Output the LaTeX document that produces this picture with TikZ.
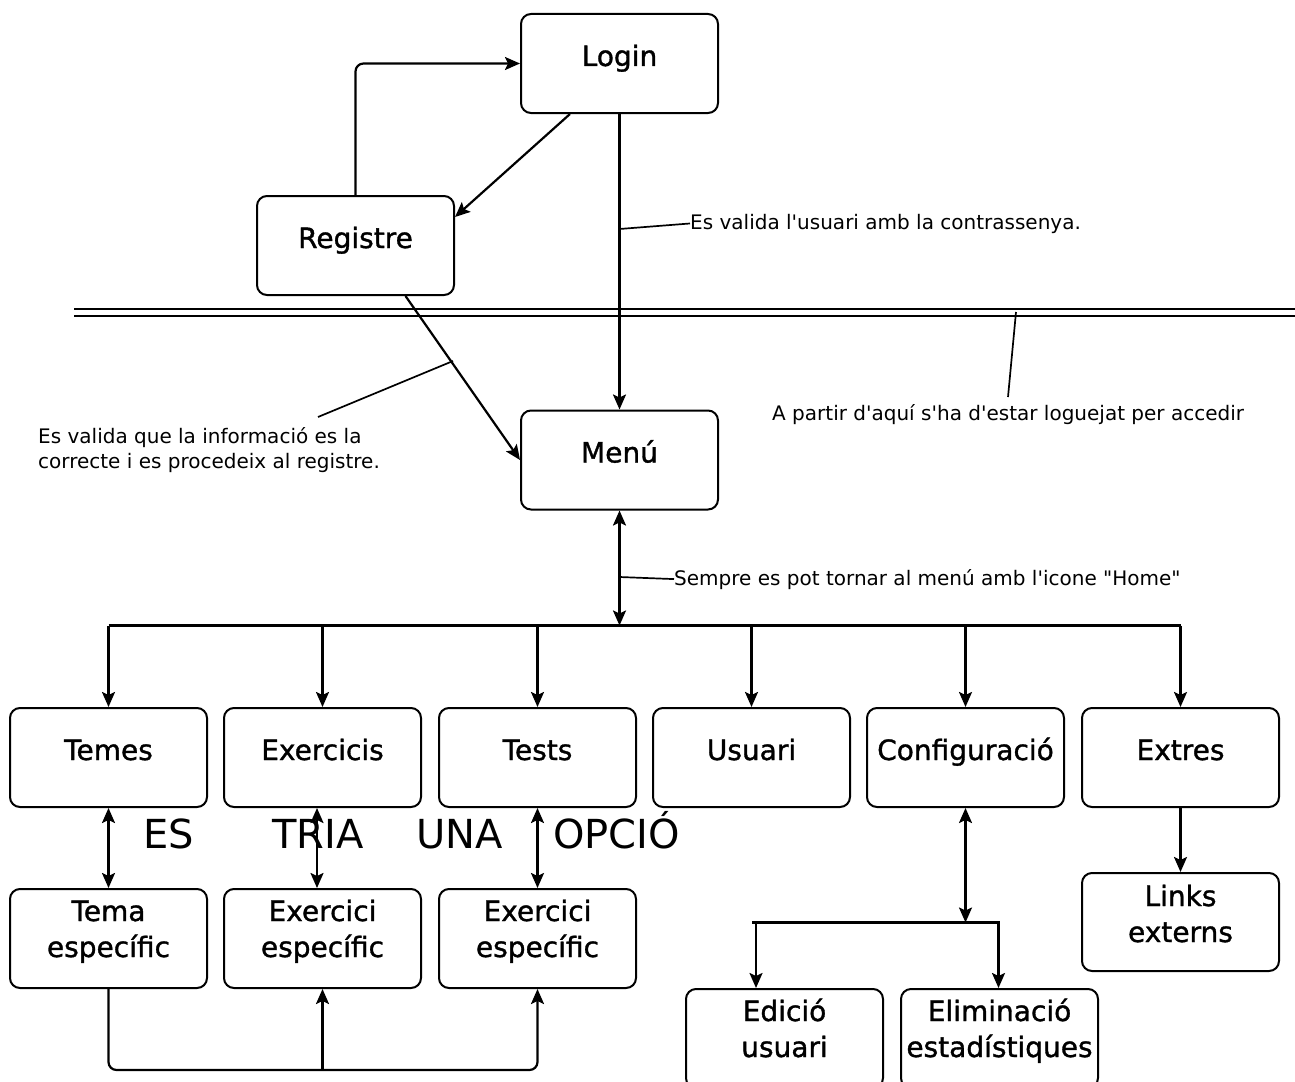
\documentclass[tikz,border=0pt]{standalone}
\usepackage{fontspec}
\setmainfont[Ligatures=TeXOff]{DejaVu Sans}
\newfontfamily\boxfont[Ligatures=TeXOff,FakeBold=1.2]{DejaVu Sans}
\usetikzlibrary{arrows.meta}
\tikzset{
  >={Stealth[length=15pt,width=13pt,inset=3pt]},
  line/.style={line width=2.2pt, draw=black},
  arr/.style={line, ->},
  darr/.style={line, <->},
  thin/.style={line width=1.7pt, draw=black},
  box/.style={draw=black, line width=2pt, rounded corners=10pt, minimum width=197pt, minimum height=99pt, inner sep=0pt},
  lbl/.style={inner sep=0pt, font=\boxfont\fontsize{28}{36}\selectfont, align=center},
  ann/.style={inner sep=0pt, font=\fontsize{20}{24.5}\selectfont, align=left},
  big/.style={inner sep=0pt, font=\fontsize{40}{48}\selectfont},
}
\begin{document}
\begin{tikzpicture}[x=1pt, y=-1pt]
\clip (0,0) rectangle (1295,1081);
\fill[white] (0,0) rectangle (1295,1081);

% boxes
\node[box] (login) at (619.5,63.5) {};
\node[box] (registre) at (355.5,245.5) {};
\node[box] (menu) at (619.5,460) {};
\node[box] (temes) at (108.5,757.5) {};
\node[box] (exercicis) at (322.5,757.5) {};
\node[box] (tests) at (537.5,757.5) {};
\node[box] (usuari) at (751.5,757.5) {};
\node[box] (config) at (965.5,757.5) {};
\node[box] (extres) at (1180.5,757.5) {};
\node[box] (temaesp) at (108.5,938.5) {};
\node[box] (exesp1) at (322.5,938.5) {};
\node[box] (exesp2) at (537.5,938.5) {};
\node[box, minimum height=98pt] (links) at (1180.5,922) {};
\node[box] (edicio) at (784.5,1038.5) {};
\node[box] (elim) at (999.5,1038.5) {};

% labels
\node[lbl, anchor=base] (tlogin) at ([yshift=-2.5pt]login.center) {Login};
\node[lbl, anchor=base] (tregistre) at ([yshift=-2.5pt]registre.center) {Registre};
\node[lbl, anchor=base] (tmenu) at ([yshift=-2.5pt]menu.center) {Menú};
\node[lbl, anchor=base] (ttemes) at ([yshift=-2.5pt]temes.center) {Temes};
\node[lbl, anchor=base] (texercicis) at ([yshift=-2.5pt]exercicis.center) {Exercicis};
\node[lbl, anchor=base] (ttests) at ([yshift=-2.5pt]tests.center) {Tests};
\node[lbl, anchor=base] (tusuari) at ([yshift=-2.5pt]usuari.center) {Usuari};
\node[lbl, anchor=base] (tconfig) at ([yshift=-2.5pt]config.center) {Configuració};
\node[lbl, anchor=base] (textres) at ([yshift=-2.5pt]extres.center) {Extres};
\node[lbl, anchor=base] (ttemaesp) at ([yshift=-18.5pt]temaesp.center) {Tema\\específic};
\node[lbl, anchor=base] (texesp1) at ([yshift=-18.5pt]exesp1.center) {Exercici\\específic};
\node[lbl, anchor=base] (texesp2) at ([yshift=-18.5pt]exesp2.center) {Exercici\\específic};
\node[lbl, anchor=base] (tlinks) at ([yshift=-20pt]links.center) {Links\\externs};
\node[lbl, anchor=base] (tedicio) at ([yshift=-18.5pt]edicio.center) {Edició\\usuari};
\node[lbl, anchor=base] (telim) at ([yshift=-18.5pt]elim.center) {Eliminació\\estadístiques};

% annotations
\node[ann, anchor=base west] (a1) at (690,229) {Es valida l'usuari amb la contrassenya.};
\node[ann, anchor=base west] (a2) at (772,420) {A partir d'aquí s'ha d'estar loguejat per accedir};
\node[ann, anchor=base west] (a3) at (38,468) {Es valida que la informació es la\\correcte i es procedeix al registre.};
\node[ann, anchor=base west] (a4) at (674,585) {Sempre es pot tornar al menú amb l'icone "Home"};

\node[big, anchor=base west] (w1) at (143,848) {ES};
\node[big, anchor=base west] (w2) at (272,848) {TRIA};
\node[big, anchor=base west] (w3) at (416,848) {UNA};
\node[big, anchor=base west] (w4) at (553,848) {OPCIÓ};

% coordinates
\coordinate (lv) at (619.5,229);
\coordinate (dl1a) at (74,308.5);
\coordinate (dl1b) at (1295,308.5);
\coordinate (dl2a) at (74,315.5);
\coordinate (dl2b) at (1295,315.5);
\coordinate (l2a) at (1016,312);
\coordinate (l2b) at (1008,397);
\coordinate (l3a) at (453,361);
\coordinate (l3b) at (318,417);
\coordinate (l4a) at (619.5,577);
\coordinate (bus) at (619.5,625.5);
\coordinate (loopy) at (0,1070);
\coordinate (sbL) at (752,922.5);
\coordinate (sbR) at (999.5,922.5);

% top connectors
\draw[arr] ([xshift=-49.5pt]login.south) -- ([yshift=28.5pt]registre.east);
\draw[arr, rounded corners=8pt] (registre.north) |- (login.west);
\draw[arr] (login.south) -- (menu.north);
\draw[thin] (lv) -- (a1.west);
\draw[arr] ([xshift=50pt]registre.south) -- (menu.west);
\draw[thin] (l3a) -- (l3b);

% double line
\draw[line, line width=2pt] (dl1a) -- (dl1b);
\draw[line, line width=2pt] (dl2a) -- (dl2b);
\draw[thin] (l2a) -- (l2b);

% menu to bus
\draw[darr] (menu.south) -- (bus);
\draw[thin] (l4a) -- (a4.west);
\draw[line] (temes.north |- bus) -- (extres.north |- bus);
\foreach \n in {temes,exercicis,tests,usuari,config,extres}
  \draw[arr] (\n.north |- bus) -- (\n.north);

% second level
\draw[darr] (temes.south) -- (temaesp.north);
\draw[darr] ([xshift=-5.5pt]exercicis.south) -- ([xshift=-5.5pt]exesp1.north);
\draw[darr] (tests.south) -- (exesp2.north);
\draw[arr, rounded corners=8pt] (temaesp.south) |- (loopy -| exesp2.south) -- (exesp2.south);
\draw[arr] (exesp1.south |- loopy) -- (exesp1.south);

% configuration
\draw[darr] (config.south) -- (config.south |- sbR);
\draw[line] (sbL) -- (sbR);
\draw[arr] ([xshift=4pt]sbL) -- ([xshift=-28.5pt]edicio.north);
\draw[arr] ([xshift=-1pt]sbR) -- ([xshift=-1pt]elim.north);

% extres
\draw[arr] (extres.south) -- (links.north);
\end{tikzpicture}
\end{document}
